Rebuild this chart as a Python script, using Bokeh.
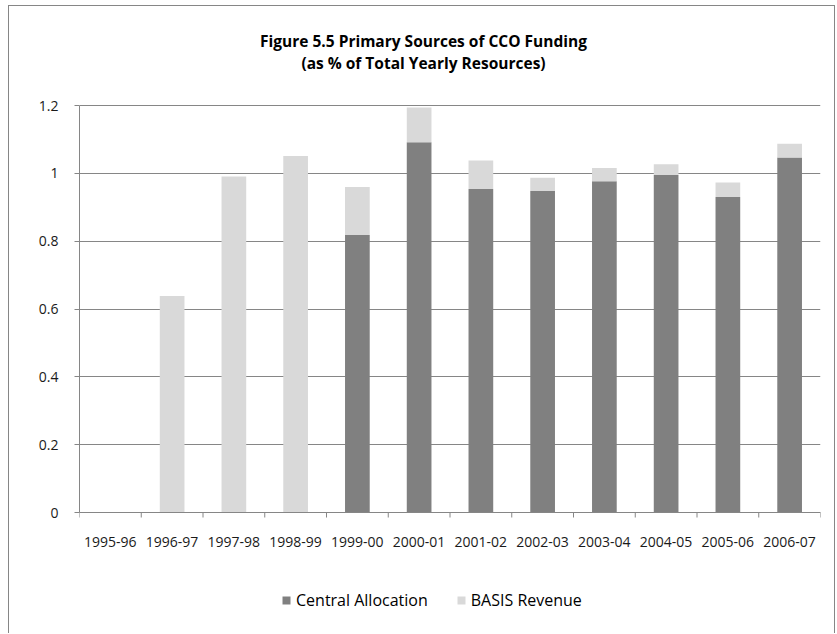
from bokeh.plotting import figure
from bokeh.models import (FactorRange, Range1d, Legend, LegendItem, Label,
                          FixedTicker, CustomJSTickFormatter, ColumnDataSource)
from bokeh.transform import dodge
from bokeh.embed import file_html
from bokeh.resources import INLINE

# ---- data ----
years = ["1995-96", "1996-97", "1997-98", "1998-99", "1999-00", "2000-01",
         "2001-02", "2002-03", "2003-04", "2004-05", "2005-06", "2006-07"]
central = [0.0, 0.0, 0.0, 0.0, 0.818, 1.092, 0.954, 0.948, 0.977, 0.995, 0.930, 1.047]
basis = [0.0, 0.638, 0.991, 1.051, 0.142, 0.102, 0.084, 0.039, 0.039, 0.032, 0.043, 0.040]
y_ticks = [0, 0.2, 0.4, 0.6, 0.8, 1.0, 1.2]
series = ["Central Allocation", "BASIS Revenue"]
title_lines = ["Figure 5.5 Primary Sources of CCO Funding",
               "(as % of Total Yearly Resources)"]

colors = ["#808080", "#d9d9d9"]
FONT = "Open Sans"
GRAY = "#868686"

# layout: canvas spans y = 6..634; value 1.2 sits at y=105 and 0 at y=512
PX_PER_UNIT = (512 - 105) / 1.2
Y_TOP = 1.2 + (105 - 6) / PX_PER_UNIT
Y_BOTTOM = -(634 - 512) / PX_PER_UNIT
TICK = 5 / PX_PER_UNIT

source = ColumnDataSource(dict(year=years, central=central, basis=basis))

p = figure(x_range=FactorRange(factors=years), y_range=Range1d(Y_BOTTOM, Y_TOP),
           width=827, height=628, output_backend="svg", toolbar_location=None,
           title=None,
           min_border_left=70, min_border_right=16, min_border_top=0,
           min_border_bottom=0)
p.styles = {"margin-left": "8px", "margin-top": "5px",
            "border": "1px solid " + GRAY, "border-bottom": "none"}

rs = p.vbar_stack(["central", "basis"], x="year", width=0.4, source=source,
                  fill_color=colors, line_color=None)

# category-boundary tick marks below the x axis (Excel style)
tick_src = ColumnDataSource(dict(year=years, y0=[0] * len(years),
                                 y1=[-TICK] * len(years)))
p.segment(x0=dodge("year", -0.5, range=p.x_range), y0="y0",
          x1=dodge("year", -0.5, range=p.x_range), y1="y1",
          source=tick_src, line_color=GRAY, line_width=1)
end_src = ColumnDataSource(dict(year=[years[-1]], y0=[0], y1=[-TICK]))
p.segment(x0=dodge("year", 0.5, range=p.x_range), y0="y0",
          x1=dodge("year", 0.5, range=p.x_range), y1="y1",
          source=end_src, line_color=GRAY, line_width=1)

p.outline_line_color = None
p.xgrid.grid_line_color = None
p.ygrid.grid_line_color = GRAY
p.ygrid.grid_line_width = 1
p.ygrid.ticker = FixedTicker(ticks=y_ticks)

p.yaxis.ticker = FixedTicker(ticks=y_ticks)
p.yaxis.bounds = (0, 1.2)
p.yaxis.formatter = CustomJSTickFormatter(
    code="return tick.toFixed(1).replace(/\\.0$/, '');")
p.yaxis.axis_line_color = GRAY
p.yaxis.major_tick_line_color = GRAY
p.yaxis.major_tick_out = 5
p.yaxis.major_tick_in = 0
p.yaxis.minor_tick_line_color = None
p.yaxis.major_label_standoff = 16

p.xaxis.fixed_location = 0
p.xaxis.axis_line_color = GRAY
p.xaxis.major_tick_line_color = None
p.xaxis.major_tick_out = 0
p.xaxis.major_label_standoff = 24

for ax in (p.xaxis, p.yaxis):
    ax.major_label_text_font = FONT
    ax.major_label_text_font_size = "14px"
    ax.major_label_text_color = "#1a1a1a"

# title (two centred lines above the plot area)
title_x = (423 - 79) / 61.75
for i, t in enumerate(title_lines):
    ypix = 40 + 22 * i
    p.add_layout(Label(x=title_x, y=(512 - ypix) / PX_PER_UNIT, text=t,
                       text_align="center", text_baseline="middle",
                       text_font=FONT, text_font_style="bold",
                       text_font_size="15.5px", text_color="#000000"))

legend = Legend(items=[LegendItem(label=series[0], renderers=[rs[0]]),
                       LegendItem(label=series[1], renderers=[rs[1]])],
                location=(202, 23), orientation="horizontal",
                glyph_width=10, glyph_height=10, label_standoff=5, spacing=28,
                padding=0, margin=0, border_line_color=None,
                background_fill_alpha=0, label_text_font=FONT,
                label_text_font_size="16px", label_text_color="#000000")
p.add_layout(legend)

open("out.html", "w").write(file_html(p, INLINE))
